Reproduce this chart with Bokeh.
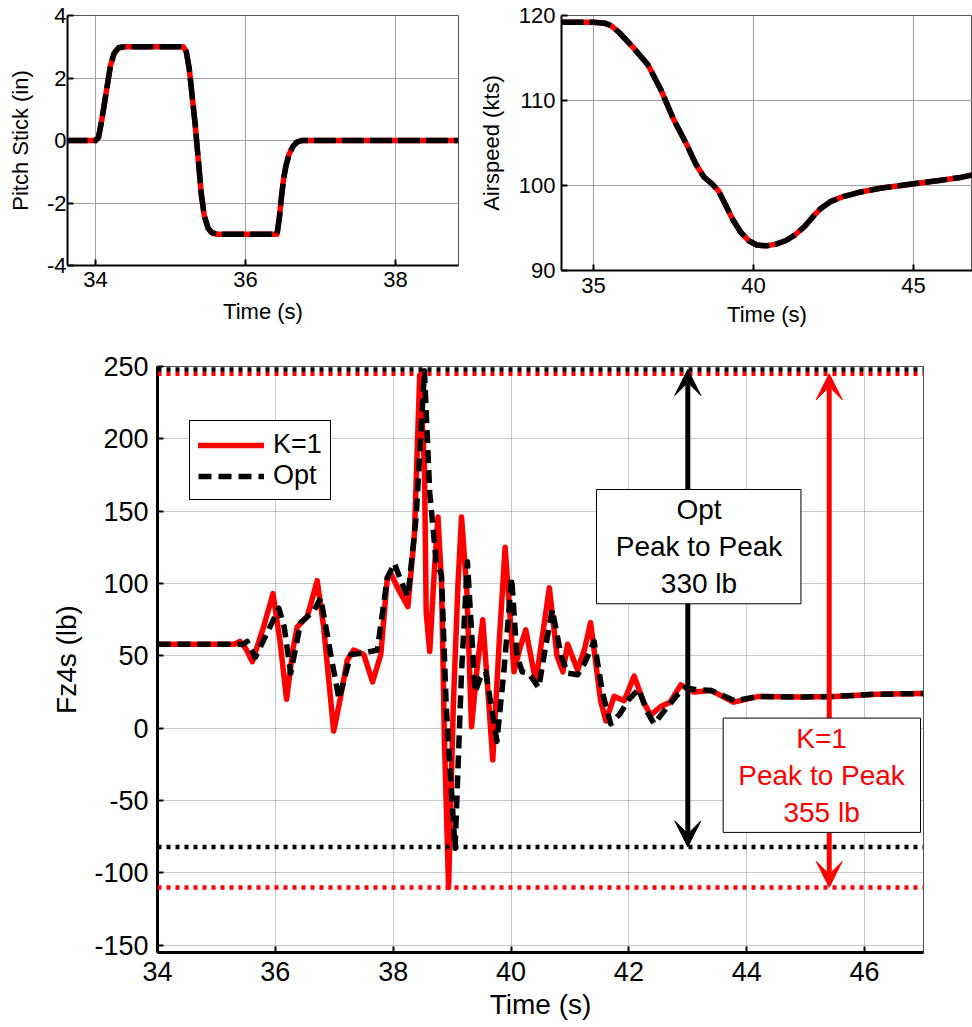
from bokeh.plotting import figure
from bokeh.models import (Range1d, FixedTicker, Span, Arrow, VeeHead, BoxAnnotation, Label)
from bokeh.layouts import column, row
from bokeh.embed import file_html
from bokeh.resources import INLINE

FONT = "Liberation Sans"

# ---------------- data ----------------
pitch_t = [33.6, 34.0, 34.04, 34.08, 34.12, 34.16, 34.2, 34.25, 34.31, 34.38, 35.17, 35.21,
           35.25, 35.29, 35.33, 35.37, 35.41, 35.45, 35.5, 35.55, 35.62, 36.42, 36.45, 36.48,
           36.51, 36.54, 36.58, 36.63, 36.68, 36.75, 38.84]
pitch_in = [0, 0, 0.1, 0.6, 1.2, 1.8, 2.4, 2.8, 2.97, 3.0, 3.0, 2.85,
            2.3, 1.4, 0.5, -0.6, -1.7, -2.4, -2.8, -2.95, -3.0, -3.0, -2.5, -1.8,
            -1.2, -0.8, -0.45, -0.2, -0.06, 0, 0]

air_t = [34.0, 35.0, 35.35, 35.55, 35.8, 36.2, 36.7, 37.1, 37.5, 37.9, 38.2, 38.45, 38.7,
         38.9, 39.1, 39.35, 39.6, 39.85, 40.1, 40.4, 40.7, 41.0, 41.3, 41.6, 41.85, 42.1,
         42.4, 42.8, 43.3, 44.0, 44.6, 45.2, 45.8, 46.4, 46.9]
air_kts = [119.2, 119.2, 119.1, 118.8, 118.0, 116.4, 114.2, 111.3, 107.8, 104.9, 102.5, 101.0,
           100.2, 99.4, 97.9, 96.0, 94.5, 93.5, 93.0, 92.9, 93.1, 93.5, 94.2, 95.2, 96.3, 97.3,
           98.1, 98.7, 99.2, 99.7, 100.0, 100.3, 100.6, 100.9, 101.3]

k1_t = [34.0, 35.3, 35.4, 35.5, 35.61, 35.8, 35.96, 36.08, 36.19, 36.3, 36.37, 36.54, 36.63,
        36.71, 36.82, 36.99, 37.1, 37.22, 37.33, 37.5, 37.65, 37.79, 37.9, 37.97, 38.1, 38.25,
        38.36, 38.45, 38.53, 38.56, 38.62, 38.7, 38.76, 38.82, 38.87, 38.94, 39.02, 39.1, 39.16,
        39.25, 39.33, 39.42, 39.52, 39.6, 39.69, 39.8, 39.9, 40.05, 40.15, 40.25, 40.42, 40.52,
        40.65, 40.78, 40.88, 40.96, 41.13, 41.25, 41.35, 41.52, 41.61, 41.75, 41.92, 42.09,
        42.25, 42.37, 42.54, 42.7, 42.88, 43.1, 43.4, 43.78, 44.2, 44.9, 45.5, 46.2, 47.0]
k1_fz = [58, 58, 60, 55, 46, 70, 93, 60, 20, 55, 70, 77, 90,
         102, 70, -2, 20, 47, 54, 51, 32, 51, 104, 106, 95, 84,
         134, 244, 182, 80, 53, 110, 146, 101, -9, -110, 15, 100, 146,
         95, 1, 40, 75, 30, -22, 60, 125, 39, 55, 68, 32, 60,
         97, 50, 39, 58, 40, 55, 73, 19, 5, 22, 19, 36,
         18, 9, 15, 18, 30, 25, 26, 18, 22, 21.5, 22, 23.5, 24]

opt_t = [34.0, 35.45, 35.52, 35.66, 35.85, 36.06, 36.15, 36.26, 36.43, 36.65, 36.77, 36.94,
         37.08, 37.28, 37.5, 37.73, 37.9, 38.02, 38.15, 38.25, 38.39, 38.53, 38.62, 38.73,
         38.82, 38.9, 39.05, 39.16, 39.26, 39.39, 39.48, 39.57, 39.76, 39.88, 40.01, 40.1,
         40.19, 40.3, 40.47, 40.58, 40.7, 40.85, 40.96, 41.13, 41.25, 41.41, 41.55, 41.69,
         41.85, 42.0, 42.17, 42.3, 42.43, 42.6, 42.8, 42.95, 43.1, 43.4, 43.8, 44.2, 44.9,
         45.5, 46.2, 47.0]
opt_fz = [58, 58, 60, 49, 65, 83, 70, 38, 73, 81, 90, 51,
          20, 51, 52, 54, 104, 114, 100, 91, 146, 247, 163, 115,
          106, 15, -83, 39, 115, 25, 35, 39, -9, 40, 104, 50,
          39, 38, 28, 55, 82, 50, 38, 37, 45, 60, 25, 3,
          10, 20, 27, 12, 3, 12, 22, 28, 27, 26, 19, 22, 21.5,
          22, 23.5, 24]

opt_peak, opt_trough = 248, -82
k1_peak, k1_trough = 245, -110

pitch_xticks = [34, 36, 38]
pitch_yticks = [-4, -2, 0, 2, 4]
air_xticks = [35, 40, 45]
air_yticks = [90, 100, 110, 120]
fz_xticks = [34, 36, 38, 40, 42, 44, 46]
fz_yticks = [-150, -100, -50, 0, 50, 100, 150, 200, 250]


def base_fig(xr, yr, w, h, bl, br, bt, bb):
    p = figure(x_range=Range1d(*xr), y_range=Range1d(*yr), width=w, height=h,
               output_backend="svg", toolbar_location=None,
               min_border_left=bl, min_border_right=br, min_border_top=bt, min_border_bottom=bb,
               background_fill_color="white", border_fill_color="white")
    p.outline_line_color = "#555555"
    p.outline_line_width = 1
    return p


def style(p, xticks, yticks, tick_fs, label_fs, axis_w, xlabel, ylabel,
          xstd, ystd, xlstd, ylstd, grid_color, grid_dash):
    p.xaxis.ticker = FixedTicker(ticks=xticks)
    p.yaxis.ticker = FixedTicker(ticks=yticks)
    p.xaxis.major_label_overrides = {t: str(t) for t in xticks}
    p.yaxis.major_label_overrides = {t: str(t) for t in yticks}
    p.xaxis.axis_label = xlabel
    p.yaxis.axis_label = ylabel
    for ax, std, lstd in ((p.xaxis[0], xstd, xlstd), (p.yaxis[0], ystd, ylstd)):
        ax.major_label_text_font = FONT
        ax.major_label_text_font_size = f"{tick_fs}px"
        ax.major_label_text_color = "black"
        ax.major_label_standoff = std
        ax.axis_label_text_font = FONT
        ax.axis_label_text_font_size = f"{label_fs}px"
        ax.axis_label_text_font_style = "normal"
        ax.axis_label_text_color = "black"
        ax.axis_label_standoff = lstd
        ax.axis_line_width = axis_w
        ax.axis_line_color = "black"
        ax.major_tick_in = 6
        ax.major_tick_out = 0
        ax.major_tick_line_width = 2
        ax.major_tick_line_color = "black"
        ax.minor_tick_line_color = None
    for g in (p.xgrid[0], p.ygrid[0]):
        g.grid_line_color = grid_color
        g.grid_line_width = 1
        if grid_dash:
            g.grid_line_dash = grid_dash


# ---------------- top-left: pitch stick ----------------
p1 = base_fig((33.627, 38.84), (-4, 4), 471, 331, 67, 13, 15, 66)
style(p1, pitch_xticks, pitch_yticks, 22, 22, 2, "Time (s)", "Pitch Stick (in)",
      6, 1, 9, 11, "#a0a0a0", None)
p1.line(pitch_t, pitch_in, line_color="red", line_width=5.5, line_join="round", line_cap="round")
p1.line(pitch_t, pitch_in, line_color="black", line_width=5.5, line_dash="22 6", line_join="round")

# ---------------- top-right: airspeed ----------------
p2 = base_fig((34, 46.84), (90, 120), 501, 336, 90, 0, 13, 66)
style(p2, air_xticks, air_yticks, 22, 22, 2, "Time (s)", "Airspeed (kts)",
      7, 6, 6, 12, "#a0a0a0", None)
p2.line(air_t, air_kts, line_color="red", line_width=5.5, line_join="round", line_cap="round")
p2.line(air_t, air_kts, line_color="black", line_width=5.5, line_dash="22 6", line_join="round")

# ---------------- bottom: Fz4s ----------------
p3 = base_fig((34, 47), (-155, 250), 972, 691, 157, 49, 30, 75)
style(p3, fz_xticks, fz_yticks, 27, 28, 3, "Time (s)", "Fz4s (lb)",
      9, 9, 5, 9, "#909090", "1 1")

p3.line(k1_t, k1_fz, line_color="red", line_width=5.5, line_join="round", line_cap="round",
        legend_label="K=1")
p3.line(opt_t, opt_fz, line_color="black", line_width=5.5, line_dash="13 7", line_join="round",
        legend_label="Opt")

for loc, col in ((k1_peak, "red"), (opt_peak, "black"), (k1_trough, "red"), (opt_trough, "black")):
    p3.add_layout(Span(location=loc, dimension="width", line_color=col, line_width=4.5,
                       line_dash="4 5"))

opt_x, k1_x = 43.0, 45.4
p3.add_layout(Arrow(start=VeeHead(size=26, fill_color="black", line_color="black"),
                    end=VeeHead(size=26, fill_color="black", line_color="black"),
                    x_start=opt_x, y_start=opt_trough, x_end=opt_x, y_end=opt_peak,
                    line_color="black", line_width=5))
p3.add_layout(Arrow(start=VeeHead(size=26, fill_color="red", line_color="red"),
                    end=VeeHead(size=26, fill_color="red", line_color="red"),
                    x_start=k1_x, y_start=k1_trough, x_end=k1_x, y_end=k1_peak,
                    line_color="red", line_width=5))

p3.add_layout(BoxAnnotation(left=41.45, right=44.92, bottom=86, top=165, fill_color="white",
                            fill_alpha=1, line_color="black", line_width=1, line_alpha=1))
p3.add_layout(BoxAnnotation(left=43.6, right=46.95, bottom=-72, top=7, fill_color="white",
                            fill_alpha=1, line_color="black", line_width=1, line_alpha=1))

p3.add_layout(Label(x=43.19, y=125.5, text=f"Opt\nPeak to Peak\n{opt_peak - opt_trough} lb",
                    text_align="center", text_baseline="middle", text_font=FONT,
                    text_font_size="28px", text_color="black"))
p3.add_layout(Label(x=45.27, y=-32.5, text=f"K=1\nPeak to Peak\n{k1_peak - k1_trough} lb",
                    text_align="center", text_baseline="middle", text_font=FONT,
                    text_font_size="28px", text_color="red"))

lg = p3.legend[0]
lg.location = (32, 452)
lg.label_text_font = FONT
lg.label_text_font_size = "27px"
lg.label_text_color = "black"
lg.border_line_color = "black"
lg.border_line_width = 1
lg.border_line_alpha = 1
lg.background_fill_alpha = 1
lg.padding = 8
lg.spacing = 0
lg.margin = 0
lg.glyph_width = 66
lg.glyph_height = 30
lg.label_height = 30
lg.label_standoff = 9

layout = column(row(p1, p2), p3)
open("out.html", "w").write(file_html(layout, INLINE))
